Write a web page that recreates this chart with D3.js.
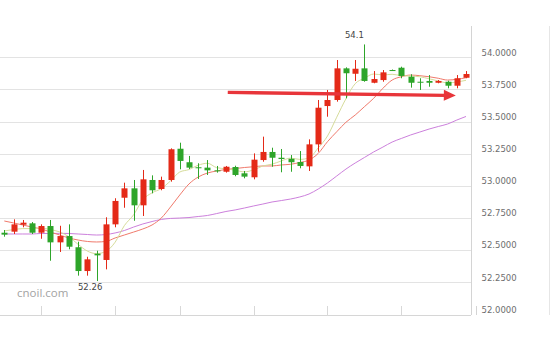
<!DOCTYPE html>
<html>
<head>
<meta charset="utf-8">
<script src="https://cdnjs.cloudflare.com/ajax/libs/d3/7.8.5/d3.min.js"></script>
<style>
    html, body { margin: 0; padding: 0; background: #fff; }
    svg { display: block; }
</style>
</head>
<body>
<div id="chart"></div>
<script>
(function() {

    // candle index (one per trading session)
    var days = d3.range(51);

    var opens = [52.636, 52.644, 52.698, 52.709, 52.636, 52.688, 52.561, 52.610, 52.523, 52.338,
        52.473, 52.424, 52.701, 52.908, 52.981, 52.849, 53.046, 52.976, 53.046, 53.289,
        53.184, 53.145, 53.142, 53.121, 53.110, 53.147, 53.098, 53.067, 53.201, 53.264,
        53.219, 53.211, 53.186, 53.152, 53.323, 53.621, 53.668, 53.914, 53.872, 53.914,
        53.802, 53.823, 53.901, 53.919, 53.849, 53.810, 53.816, 53.802, 53.810, 53.779, 53.841];
    var highs = [52.657, 52.740, 52.735, 52.719, 52.701, 52.735, 52.690, 52.701, 52.566, 52.449,
        52.496, 52.756, 52.904, 53.025, 53.046, 53.124, 53.082, 53.072, 53.292, 53.336,
        53.233, 53.176, 53.201, 53.155, 53.155, 53.157, 53.116, 53.253, 53.383, 53.297,
        53.287, 53.240, 53.271, 53.362, 53.668, 53.746, 53.979, 53.922, 53.979, 54.100,
        53.893, 53.901, 53.905, 53.927, 53.868, 53.837, 53.862, 53.823, 53.818, 53.862, 53.893];
    var lows = [52.605, 52.626, 52.678, 52.626, 52.589, 52.418, 52.486, 52.507, 52.302, 52.302,
        52.260, 52.351, 52.678, 52.830, 52.729, 52.766, 52.942, 52.966, 53.033, 53.129,
        53.131, 53.054, 53.085, 53.103, 53.103, 53.075, 53.059, 53.051, 53.188, 53.149,
        53.106, 53.110, 53.137, 53.116, 53.266, 53.538, 53.655, 53.681, 53.816, 53.810,
        53.798, 53.810, 53.895, 53.837, 53.764, 53.746, 53.771, 53.798, 53.759, 53.759, 53.837];
    var closes = [52.621, 52.701, 52.714, 52.636, 52.688, 52.561, 52.610, 52.527, 52.338, 52.429,
        52.460, 52.701, 52.883, 52.981, 52.849, 53.051, 52.966, 53.046, 53.285, 53.194,
        53.142, 53.139, 53.121, 53.116, 53.149, 53.085, 53.072, 53.204, 53.264, 53.219,
        53.209, 53.184, 53.155, 53.323, 53.608, 53.668, 53.914, 53.876, 53.911, 53.816,
        53.831, 53.883, 53.899, 53.855, 53.802, 53.806, 53.802, 53.816, 53.779, 53.837, 53.870];

    // moving averages
    var ma5 = [52.650, 52.660, 52.668, 52.668, 52.672, 52.660, 52.642, 52.604, 52.545, 52.493,
        52.473, 52.491, 52.562, 52.691, 52.775, 52.893, 52.946, 52.979, 53.039, 53.108,
        53.127, 53.161, 53.176, 53.142, 53.133, 53.122, 53.109, 53.125, 53.155, 53.169,
        53.194, 53.216, 53.206, 53.218, 53.296, 53.388, 53.534, 53.678, 53.795, 53.837,
        53.870, 53.863, 53.868, 53.857, 53.854, 53.849, 53.833, 53.816, 53.801, 53.808, 53.821];
    var ma10 = [52.727, 52.712, 52.696, 52.680, 52.665, 52.641, 52.618, 52.595, 52.579, 52.568,
        52.564, 52.568, 52.595, 52.618, 52.641, 52.665, 52.696, 52.750, 52.836, 52.929,
        53.015, 53.069, 53.100, 53.116, 53.128, 53.135, 53.143, 53.149, 53.155, 53.155,
        53.163, 53.168, 53.182, 53.201, 53.253, 53.344, 53.421, 53.495, 53.551, 53.616,
        53.681, 53.759, 53.823, 53.849, 53.862, 53.857, 53.849, 53.837, 53.823, 53.829, 53.841];
    var ma20 = [52.626, 52.626, 52.626, 52.626, 52.630, 52.630, 52.631, 52.630, 52.626, 52.622,
        52.618, 52.622, 52.634, 52.653, 52.680, 52.704, 52.723, 52.739, 52.747, 52.750,
        52.754, 52.762, 52.770, 52.785, 52.801, 52.813, 52.828, 52.844, 52.859, 52.875,
        52.886, 52.898, 52.914, 52.937, 52.976, 53.023, 53.077, 53.131, 53.178, 53.221,
        53.264, 53.302, 53.341, 53.369, 53.396, 53.419, 53.442, 53.462, 53.481, 53.512, 53.540];

    var priceTicks = [52.0, 52.25, 52.5, 52.75, 53.0, 53.25, 53.5, 53.75, 54.0];
    var dayTicks = [4, 12, 19, 27, 35, 43];

    // trend arrow, in (candle index, price)
    var arrowFrom = [24.2, 53.727];
    var arrowTo = [48.9, 53.703];

    var width = 550, height = 341;
    var plotRight = 471, plotTop = 26, plotBottom = 315;

    var svg = d3.select('#chart').append('svg')
        .attr('width', width)
        .attr('height', height);

    var x = d3.scaleLinear().domain([0, days.length - 1]).range([4.3, 466]);
    var y = d3.scaleLinear().domain([52, 54]).range([314.5, 57.3]);

    function crisp(v) { return Math.round(v) + 0.5; }

    // grid
    svg.append('g').selectAll('line').data(priceTicks).enter().append('line')
        .attr('x1', 0)
        .attr('x2', plotRight)
        .attr('y1', function(d) { return crisp(y(d)); })
        .attr('y2', function(d) { return crisp(y(d)); })
        .attr('stroke', function(d) { return d === 52 ? '#d6d6d6' : '#e3e3e3'; })
        .attr('stroke-width', 1);

    // borders
    svg.append('line')
        .attr('x1', plotRight + 0.5).attr('x2', plotRight + 0.5)
        .attr('y1', plotTop).attr('y2', plotBottom)
        .attr('stroke', '#d4d4d4');
    svg.append('line')
        .attr('x1', 549.5).attr('x2', 549.5)
        .attr('y1', plotTop).attr('y2', plotBottom)
        .attr('stroke', '#e6e6e6');
    svg.append('line')
        .attr('x1', 476.5).attr('x2', 476.5)
        .attr('y1', 306).attr('y2', 315)
        .attr('stroke', '#d4d4d4');

    // bottom ticks
    svg.append('g').selectAll('line').data(dayTicks).enter().append('line')
        .attr('x1', function(d) { return crisp(x(d)); })
        .attr('x2', function(d) { return crisp(x(d)); })
        .attr('y1', 306)
        .attr('y2', 316)
        .attr('stroke', '#d8d8d8');

    // price labels
    svg.append('g').selectAll('text').data(priceTicks).enter().append('text')
        .attr('x', 481.5)
        .attr('y', function(d) { return y(d) - 4.7; })
        .attr('dy', '0.35em')
        .attr('font-family', 'DejaVu Sans, Verdana, sans-serif')
        .attr('font-size', '8.5px')
        .attr('fill', '#6e6e6e')
        .text(function(d) { return d3.format('.4f')(d); });

    // watermark
    svg.append('text')
        .attr('x', 17)
        .attr('y', 297)
        .attr('font-family', 'Open Sans, sans-serif')
        .attr('font-size', '11.5px')
        .attr('fill', '#a3a3a3')
        .text('cnoil.com');

    // moving averages
    function maLine(values) {
        return d3.line()
            .x(function(d, i) { return x(days[i]); })
            .y(function(d) { return y(d); })
            .curve(d3.curveMonotoneX)(values);
    }
    svg.append('path').attr('d', maLine(ma20))
        .attr('fill', 'none').attr('stroke', '#cc80dc').attr('stroke-width', 1);
    svg.append('path').attr('d', maLine(ma10))
        .attr('fill', 'none').attr('stroke', '#f07a6c').attr('stroke-width', 1);
    svg.append('path').attr('d', maLine(ma5))
        .attr('fill', 'none').attr('stroke', '#d6dc9a').attr('stroke-width', 1);

    // candles
    var candles = days.map(function(d, i) {
        return { day: d, o: opens[i], h: highs[i], l: lows[i], c: closes[i] };
    });
    var up = '#e42a18', down = '#2ea52a';
    var bodyW = 6;

    var g = svg.append('g').selectAll('g').data(candles).enter().append('g');
    g.append('line')
        .attr('x1', function(d) { return crisp(x(d.day)); })
        .attr('x2', function(d) { return crisp(x(d.day)); })
        .attr('y1', function(d) { return y(d.h); })
        .attr('y2', function(d) { return y(d.l); })
        .attr('stroke', function(d) { return d.c >= d.o ? up : down; })
        .attr('stroke-width', 1);
    g.append('rect')
        .attr('x', function(d) { return Math.round(x(d.day)) + 0.5 - bodyW / 2; })
        .attr('width', bodyW)
        .attr('y', function(d) { return y(Math.max(d.o, d.c)); })
        .attr('height', function(d) { return Math.max(1, Math.abs(y(d.o) - y(d.c))); })
        .attr('fill', function(d) { return d.c >= d.o ? up : down; });

    // high / low labels
    var hi = d3.maxIndex(highs), lo = d3.minIndex(lows);
    svg.append('text')
        .attr('x', x(days[hi]) - 10)
        .attr('y', y(highs[hi]) - 6)
        .attr('text-anchor', 'middle')
        .attr('font-family', 'DejaVu Sans, Verdana, sans-serif')
        .attr('font-size', '8.5px')
        .attr('fill', '#444')
        .text(d3.format('.1f')(highs[hi]));
    svg.append('text')
        .attr('x', x(days[lo]) - 6.5)
        .attr('y', y(lows[lo]) + 9)
        .attr('text-anchor', 'middle')
        .attr('font-family', 'DejaVu Sans, Verdana, sans-serif')
        .attr('font-size', '8.5px')
        .attr('fill', '#444')
        .text(d3.format('.2f')(lows[lo]));

    // trend arrow
    var ax0 = x(arrowFrom[0]), ay0 = y(arrowFrom[1]);
    var ax1 = x(arrowTo[0]), ay1 = y(arrowTo[1]);
    var headLen = 12, headHalf = 5.5;
    var ang = Math.atan2(ay1 - ay0, ax1 - ax0);
    var bx = ax1 - headLen * Math.cos(ang), by = ay1 - headLen * Math.sin(ang);
    svg.append('line')
        .attr('x1', ax0).attr('y1', ay0)
        .attr('x2', bx + 1).attr('y2', by)
        .attr('stroke', '#e8353a')
        .attr('stroke-width', 3.4);
    svg.append('path')
        .attr('d', 'M' + ax1 + ',' + ay1 +
            'L' + (bx + headHalf * Math.sin(ang)) + ',' + (by - headHalf * Math.cos(ang)) +
            'L' + (bx - headHalf * Math.sin(ang)) + ',' + (by + headHalf * Math.cos(ang)) + 'Z')
        .attr('fill', '#e8353a');

})();
</script>
</body>
</html>
